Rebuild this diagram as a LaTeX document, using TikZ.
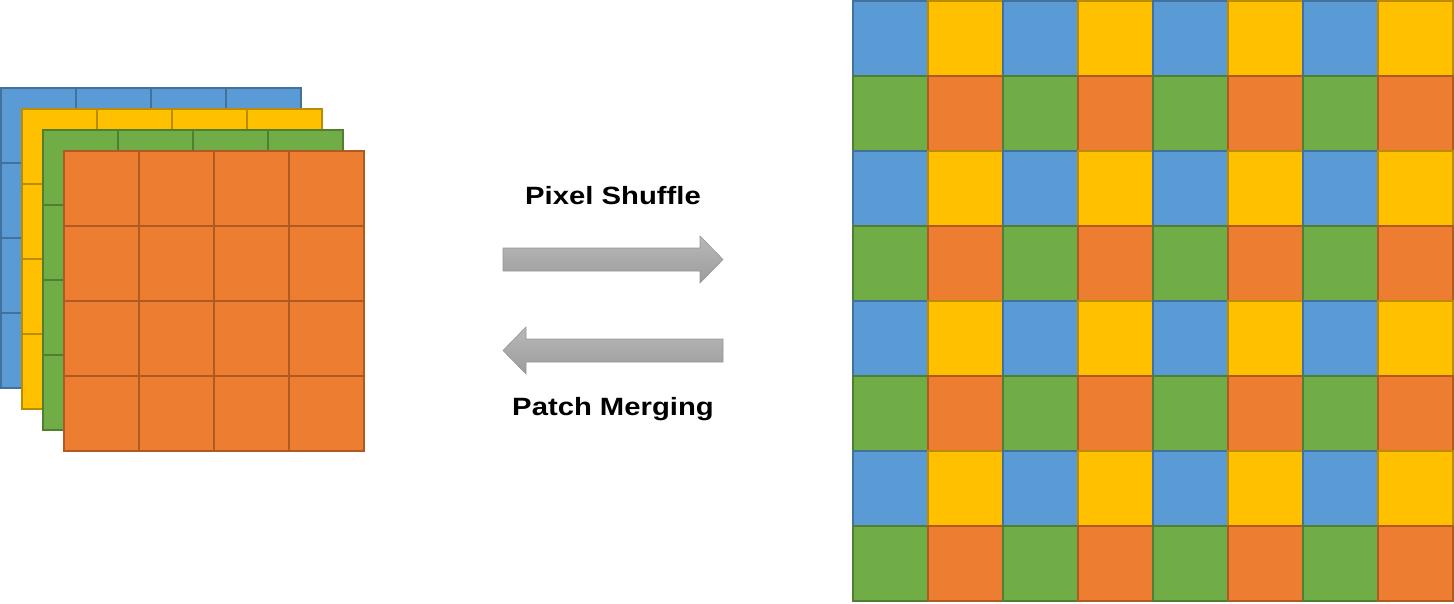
\documentclass[tikz,border=0pt]{standalone}
\usepackage{fontspec}
\newfontfamily\labfont[FakeStretch=1.17]{Liberation Sans}
\definecolor{cblue}{HTML}{5B9BD5}\definecolor{lblue}{HTML}{41719C}
\definecolor{cyel}{HTML}{FFC000}\definecolor{lyel}{HTML}{BC8C00}
\definecolor{cgre}{HTML}{70AD47}\definecolor{lgre}{HTML}{507E32}
\definecolor{cora}{HTML}{ED7D31}\definecolor{lora}{HTML}{AE5A21}
\definecolor{arrtop}{RGB}{184,184,184}
\definecolor{arrbot}{RGB}{156,156,156}
\definecolor{arredge}{RGB}{150,150,150}
\begin{document}
\begin{tikzpicture}[x=1pt,y=-1pt,
  cellbox/.style={line width=2pt},
  blockarrow/.style={top color=arrtop,bottom color=arrbot,draw=arredge,line width=0.6pt,line join=miter},
  lab/.style={font=\labfont\bfseries\fontsize{25}{30}\selectfont,anchor=base,inner sep=0pt}]
\useasboundingbox (0,0) rectangle (1454,603);
% stacked layers
\foreach \dx/\fc/\lc in {0/cblue/lblue,21/cyel/lyel,42/cgre/lgre,63/cora/lora}{
  \foreach \i in {0,...,3}{
    \foreach \j in {0,...,3}{
      \draw[cellbox,fill=\fc,draw=\lc] (1+\dx+75*\i,88+\dx+75*\j) rectangle ++(75,75);
    }
  }
}
% shuffled grid
\foreach \i in {0,2,4,6}{
  \foreach \j in {0,2,4,6}{
    \draw[cellbox,fill=cblue,draw=lblue] (853+75*\i,1+75*\j) rectangle ++(75,75);
    \draw[cellbox,fill=cyel,draw=lyel] (928+75*\i,1+75*\j) rectangle ++(75,75);
    \draw[cellbox,fill=cgre,draw=lgre] (853+75*\i,76+75*\j) rectangle ++(75,75);
    \draw[cellbox,fill=cora,draw=lora] (928+75*\i,76+75*\j) rectangle ++(75,75);
  }
}
% arrows
\path[blockarrow] (503,248) -- (700,248) -- (700,236) -- (723,259.5) -- (700,283) -- (700,271) -- (503,271) -- cycle;
\path[blockarrow] (723,339) -- (526,339) -- (526,327) -- (503,350.5) -- (526,374) -- (526,362) -- (723,362) -- cycle;
% labels
\node[lab] (ps) at (613,204.5) {Pixel Shuffle};
\node[lab] (pm) at (613,415) {Patch Merging};
\end{tikzpicture}
\end{document}
